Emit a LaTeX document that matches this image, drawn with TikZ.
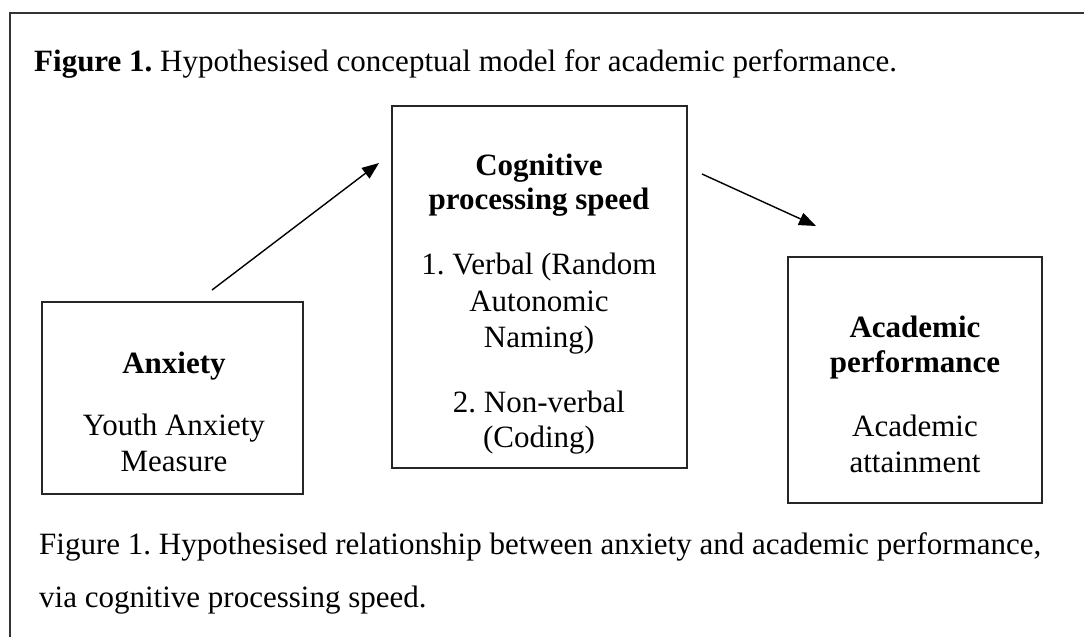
\documentclass[tikz,border=0pt]{standalone}
\usepackage{fontspec}
\setmainfont{Liberation Serif}
\usetikzlibrary{arrows.meta}
\frenchspacing
\tikzset{
  box/.style={draw=black!85, line width=1.4pt, fill=none, inner sep=0pt},
  txt/.style={anchor=base, inner sep=0pt, font=\fontsize{31}{37}\selectfont},
  btxt/.style={txt, font=\fontsize{31}{37}\selectfont\bfseries},
  ltxt/.style={anchor=base west, inner sep=0pt, font=\fontsize{31}{37}\selectfont},
  conn/.style={line width=1.4pt, -{Triangle[length=17pt,width=13pt]}},
  frame/.style={draw=black!80, line width=1.6pt}
}
\begin{document}
\begin{tikzpicture}[x=1pt,y=-1pt]
\useasboundingbox (0,0) rectangle (1084,637);
\fill[white] (0,0) rectangle (1084,637);
% outer frame (cropped)
\draw[frame] (10,637) -- (10,13) -- (1084,13);
% title
\node[ltxt] (title) at (34,71) {\textbf{Figure 1.} Hypothesised conceptual model for academic performance.};
% boxes
\node[box, minimum width=261pt, minimum height=192pt] (anx) at (172.5,398) {};
\node[box, minimum width=295pt, minimum height=362pt] (cog) at (539.5,287) {};
\node[box, minimum width=254pt, minimum height=246pt] (aca) at (915,380) {};
% anxiety text
\node[btxt] (anx1) at (174,373) {Anxiety};
\node[txt] (anx2) at (174,435) {Youth Anxiety};
\node[txt] (anx3) at (174,471) {Measure};
% cognitive text
\node[btxt] (cog1) at (539,175) {Cognitive};
\node[btxt] (cog2) at (539,209) {processing speed};
\node[txt] (cog3) at (539,274) {1. Verbal (Random};
\node[txt] (cog4) at (539,311) {Autonomic};
\node[txt] (cog5) at (539,347) {Naming)};
\node[txt] (cog6) at (539,412) {2. Non-verbal};
\node[txt] (cog7) at (539,447) {(Coding)};
% academic text
\node[btxt] (aca1) at (915,337) {Academic};
\node[btxt] (aca2) at (915,372) {performance};
\node[txt] (aca3) at (915,436) {Academic};
\node[txt] (aca4) at (915,472) {attainment};
% connectors
\coordinate (a1s) at (212,290);
\coordinate (a1e) at (379,163);
\coordinate (a2s) at (702,174);
\coordinate (a2e) at (816,226);
\draw[conn] (a1s) -- (a1e);
\draw[conn] (a2s) -- (a2e);
% caption
\node[ltxt] (cap1) at (39,554) {Figure 1. Hypothesised relationship between anxiety and academic performance,};
\node[ltxt] (cap2) at (39,607) {via cognitive processing speed.};
\end{tikzpicture}
\end{document}
